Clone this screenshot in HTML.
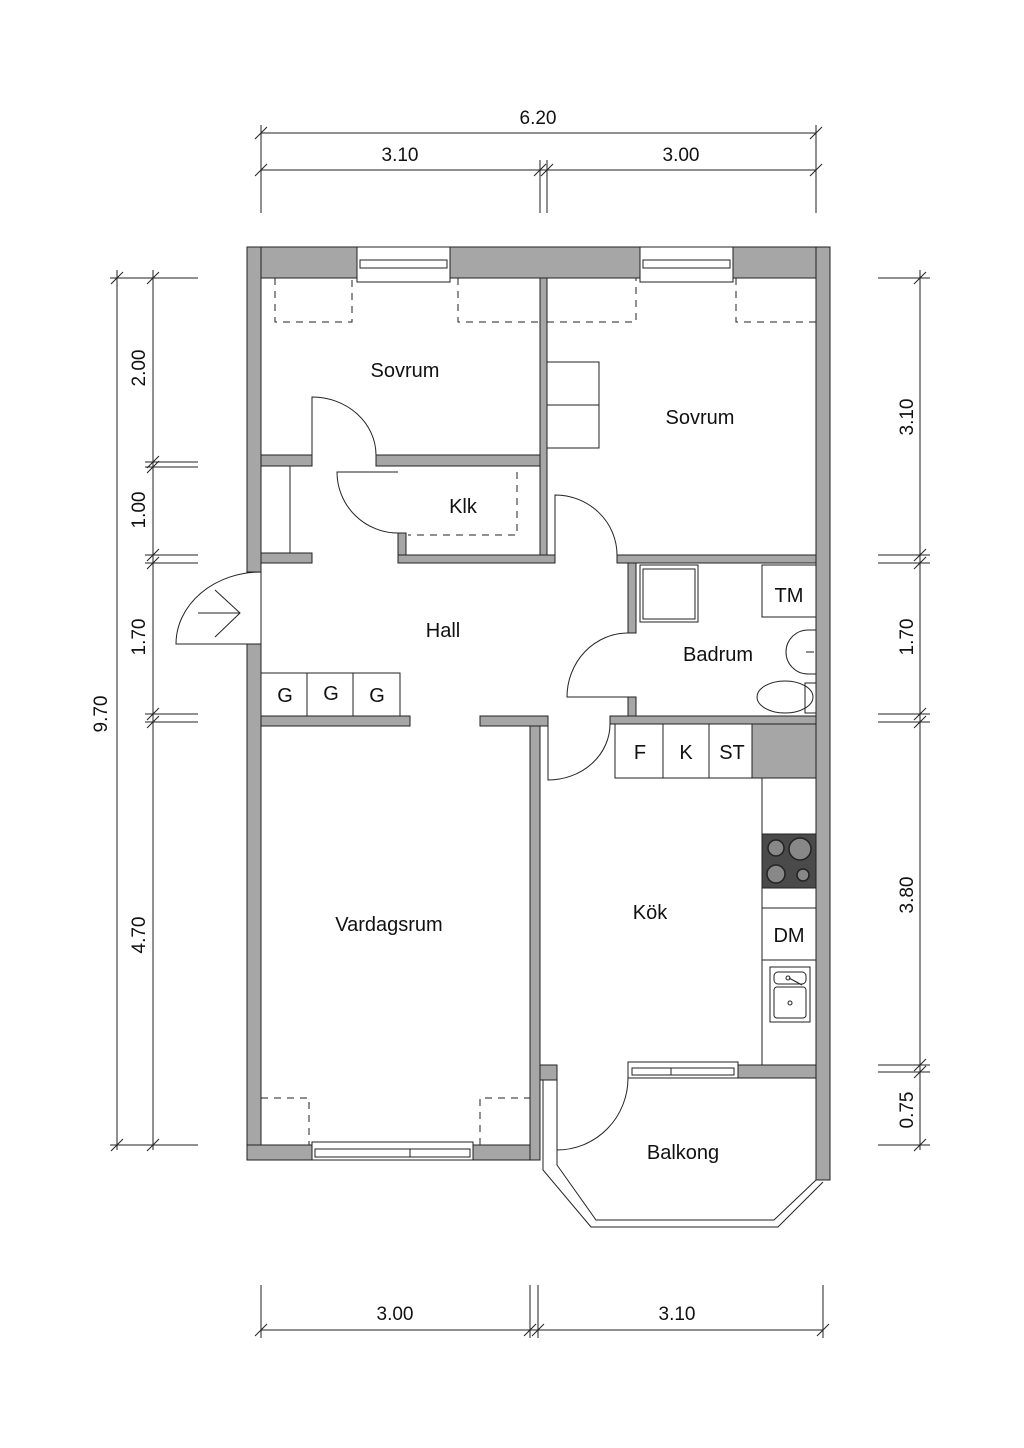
<!DOCTYPE html>
<html><head><meta charset="utf-8"><style>
html,body{margin:0;padding:0;background:#fff}
svg{display:block}
text{font-family:"Liberation Sans",sans-serif;fill:#111}
</style></head><body>
<svg width="1024" height="1448" viewBox="0 0 1024 1448" xmlns="http://www.w3.org/2000/svg">
<g fill="#a6a6a6" stroke="#222" stroke-width="1">
<rect x="247" y="247" width="583" height="31"/>
<rect x="247" y="247" width="14" height="325"/>
<rect x="247" y="644" width="14" height="516"/>
<rect x="247" y="1145" width="293" height="15"/>
<rect x="530" y="716" width="10" height="444"/>
<rect x="816" y="247" width="14" height="933"/>
<rect x="540" y="278" width="7" height="285"/>
<rect x="261" y="455" width="51" height="11"/>
<rect x="376" y="455" width="164" height="11"/>
<rect x="261" y="553" width="51" height="10"/>
<rect x="398" y="533" width="8" height="30"/>
<rect x="398" y="555" width="157" height="8"/>
<rect x="617" y="555" width="199" height="8"/>
<rect x="628" y="563" width="8" height="70"/>
<rect x="628" y="697" width="8" height="27"/>
<rect x="610" y="716" width="206" height="8"/>
<rect x="261" y="716" width="149" height="10"/>
<rect x="480" y="716" width="68" height="10"/>
<rect x="752" y="724" width="64" height="54"/>
<rect x="540" y="1065" width="17" height="15"/>
<rect x="738" y="1065" width="78" height="13"/>
</g>
<!-- windows -->
<g fill="#fff" stroke="#222" stroke-width="1">
<rect x="357" y="247" width="93" height="35"/>
<rect x="360" y="260" width="87" height="8"/>
<rect x="640" y="247" width="93" height="35"/>
<rect x="643" y="260" width="87" height="8"/>
<rect x="312" y="1142" width="161" height="18"/>
<rect x="315" y="1149" width="155" height="8"/>
<line x1="410" y1="1149" x2="410" y2="1157"/>
<rect x="628" y="1062" width="110" height="16"/>
<rect x="632" y="1068" width="102" height="7"/>
<line x1="671" y1="1068" x2="671" y2="1075"/>
</g>
<g fill="none" stroke="#222" stroke-width="1">
<!-- dashed furniture -->
<g stroke-dasharray="7,6">
<path d="M275 278 V322 H352 V278"/>
<path d="M458 278 V322 H540"/>
<path d="M547 322 H636 V278"/>
<path d="M736 278 V322 H816"/>
<path d="M517 472 V535 H408"/>
<path d="M261 1098 H309 V1145"/>
<path d="M480 1145 V1098 H530"/>
</g>
<!-- doors -->
<path d="M312 455 V397 A64 58 0 0 1 376 455"/>
<path d="M398 472 H337 A61 61 0 0 0 398 533"/>
<path d="M555 555 V495 A62 60 0 0 1 617 555"/>
<path d="M628 697 H567 A61 64 0 0 1 628 633"/>
<path d="M548 724 V780 A62 56 0 0 0 610 724"/>
<path d="M557 1080 V1150 A71 72 0 0 0 628 1078"/>
<path d="M261 572 V644 H176 A85 72 0 0 1 261 572"/>
<path d="M198 613 H240 M215 590 L240 613 L215 637"/>
<!-- closets -->
<line x1="290" y1="466" x2="290" y2="553"/>
<rect x="261" y="673" width="139" height="43"/>
<line x1="307" y1="673" x2="307" y2="716"/><line x1="353" y1="673" x2="353" y2="716"/>
<rect x="547" y="362" width="52" height="86"/><line x1="547" y1="405" x2="599" y2="405"/>
<rect x="615" y="724" width="137" height="54"/>
<line x1="663" y1="724" x2="663" y2="778"/><line x1="709" y1="724" x2="709" y2="778"/>
<!-- bath -->
<rect x="640" y="565" width="58" height="57"/><rect x="643" y="569" width="52" height="50"/>
<rect x="762" y="565" width="54" height="52"/>
<path d="M816 630 H808 A22 22 0 1 0 808 674 H816"/>
<line x1="806" y1="652" x2="814" y2="652"/>
<ellipse cx="785" cy="697" rx="28" ry="16"/><rect x="805" y="683" width="11" height="30"/>
<!-- kitchen -->
<line x1="762" y1="778" x2="762" y2="1065"/>
<line x1="762" y1="908" x2="816" y2="908"/><line x1="762" y1="960" x2="816" y2="960"/>
<rect x="770" y="967" width="40" height="55"/><rect x="774" y="972" width="32" height="12" rx="4"/><rect x="774" y="987" width="32" height="31" rx="3"/>
<circle cx="790" cy="1003" r="2"/><circle cx="788" cy="978" r="2"/><line x1="789" y1="978" x2="802" y2="985"/>
<!-- balcony -->
<path d="M543 1080 V1170 L591 1227 H778 L823 1182"/>
<path d="M557 1080 V1165 L596 1220 H774 L816 1180"/>
<!-- dimensions -->
<path d="M261 133 H816 M261 170 H816 M261 125 V213 M816 125 V213 M540 160 V213 M547 160 V213"/>
<path d="M255 139 L267 127 M810 139 L822 127 M255 176 L267 164 M810 176 L822 164 M534 176 L546 164 M541 176 L553 164"/>
<path d="M261 1330 H823 M261 1285 V1338 M823 1285 V1338 M530 1285 V1338 M538 1285 V1338"/>
<path d="M255 1336 L267 1324 M817 1336 L829 1324 M524 1336 L536 1324 M532 1336 L544 1324"/>
<path d="M117 270 V1150 M153 270 V1150 M110 278 H198 M110 1145 H198"/>
<path d="M145 462 H198 M145 467 H198 M145 555 H198 M145 563 H198 M145 714 H198 M145 722 H198"/>
<path d="M111 284 L123 272 M147 284 L159 272 M111 1151 L123 1139 M147 1151 L159 1139 M147 468 L159 456 M147 473 L159 461 M147 561 L159 549 M147 569 L159 557 M147 720 L159 708 M147 728 L159 716"/>
<path d="M920 270 V1150 M878 278 H930 M878 555 H930 M878 563 H930 M878 714 H930 M878 722 H930 M878 1065 H930 M878 1072 H930 M878 1145 H930"/>
<path d="M914 284 L926 272 M914 561 L926 549 M914 569 L926 557 M914 720 L926 708 M914 728 L926 716 M914 1071 L926 1059 M914 1078 L926 1066 M914 1151 L926 1139"/>
</g>
<!-- stove -->
<rect x="762" y="834" width="54" height="54" fill="#4a4a4a" stroke="#222"/>
<g fill="#888" stroke="#222" stroke-width="1.5">
<circle cx="776" cy="848" r="8"/><circle cx="800" cy="849" r="11"/><circle cx="776" cy="874" r="9"/><circle cx="803" cy="875" r="6"/>
</g>
<line x1="762" y1="834" x2="816" y2="834" stroke="#222"/>
<!-- labels -->
<g font-size="20" text-anchor="middle">
<text x="405" y="377">Sovrum</text>
<text x="700" y="424">Sovrum</text>
<text x="463" y="513">Klk</text>
<text x="443" y="637">Hall</text>
<text x="718" y="661">Badrum</text>
<text x="650" y="919">Kök</text>
<text x="389" y="931">Vardagsrum</text>
<text x="683" y="1159">Balkong</text>
<text x="789" y="602">TM</text>
<text x="285" y="702">G</text><text x="331" y="700">G</text><text x="377" y="702">G</text>
<text x="640" y="759">F</text><text x="686" y="759">K</text><text x="732" y="759">ST</text>
<text x="789" y="942">DM</text>
<text x="538" y="124" font-size="19">6.20</text>
<text x="400" y="161" font-size="19">3.10</text>
<text x="681" y="161" font-size="19">3.00</text>
<text x="395" y="1320" font-size="19">3.00</text>
<text x="677" y="1320" font-size="19">3.10</text>
</g>
<g font-size="19" text-anchor="middle">
<text transform="translate(107,714) rotate(-90)">9.70</text>
<text transform="translate(145,368) rotate(-90)">2.00</text>
<text transform="translate(145,510) rotate(-90)">1.00</text>
<text transform="translate(145,637) rotate(-90)">1.70</text>
<text transform="translate(145,935) rotate(-90)">4.70</text>
<text transform="translate(913,417) rotate(-90)">3.10</text>
<text transform="translate(913,637) rotate(-90)">1.70</text>
<text transform="translate(913,895) rotate(-90)">3.80</text>
<text transform="translate(913,1110) rotate(-90)">0.75</text>
</g>
</svg>
</body></html>
